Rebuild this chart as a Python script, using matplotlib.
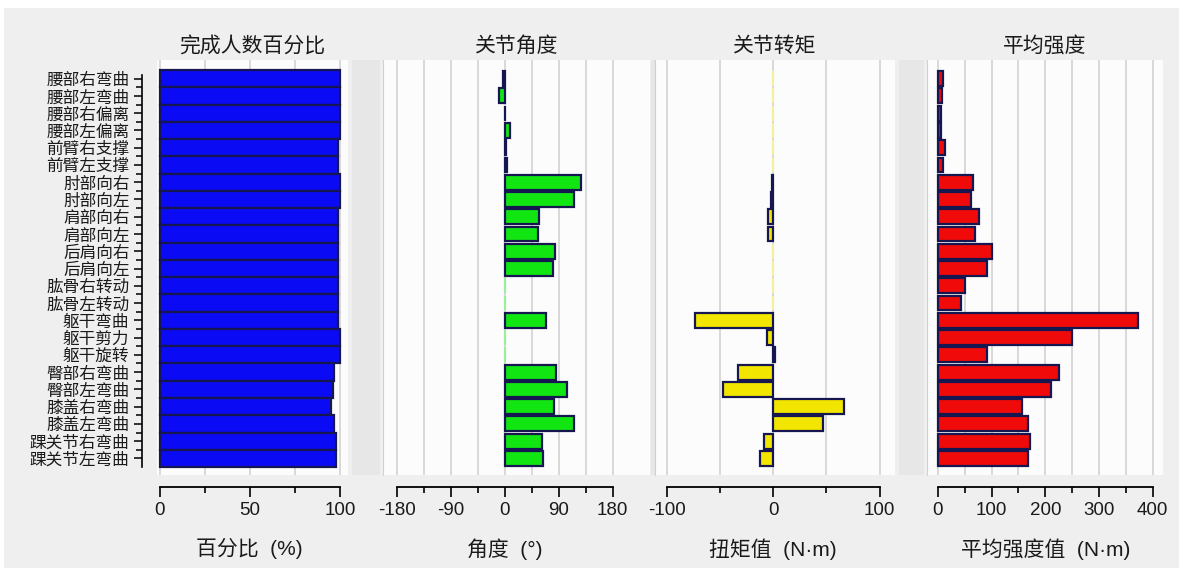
import matplotlib.pyplot as plt
import matplotlib.patches as patches
from matplotlib.ticker import FixedLocator
import numpy as np

plt.rcParams['font.family'] = ['Noto Sans CJK SC', 'DejaVu Sans']
plt.rcParams['axes.unicode_minus'] = False

# data
categories = ['腰部右弯曲', '腰部左弯曲', '腰部右偏离', '腰部左偏离', '前臂右支撑', '前臂左支撑',
              '肘部向右', '肘部向左', '肩部向右', '肩部向左', '后肩向右', '后肩向左',
              '肱骨右转动', '肱骨左转动', '躯干弯曲', '躯干剪力', '躯干旋转',
              '臀部右弯曲', '臀部左弯曲', '膝盖右弯曲', '膝盖左弯曲', '踝关节右弯曲', '踝关节左弯曲']
percent = [100, 100, 100, 100, 99, 99, 100, 100, 99, 99, 99, 99, 99, 99, 99, 100, 100,
           97, 96, 95, 97, 98, 98]
angle = [-3, -10, 1, 8, 2, 4, 127, 115, 57, 55, 83, 80, 0, 0, 68, 0, 0,
         85, 103, 82, 115, 62, 63]
torque = [0, 0, 0, 0, 0, 0, -1, -2, -5, -5, 0, 0, 0, 0, -73, -6, 2,
          -33, -47, 67, 47, -9, -12]
strength = [9, 8, 6, 6, 13, 10, 66, 62, 77, 69, 100, 92, 50, 44, 372, 250, 91,
            225, 211, 156, 168, 171, 168]

titles = ['完成人数百分比', '关节角度', '关节转矩', '平均强度']
xlabels = ['百分比  (%)', '角度  (°)', '扭矩值  (N·m)', '平均强度值  (N·m)']

W, H = 1179, 568
fig = plt.figure(figsize=(W / 100, H / 100), dpi=100, facecolor='white')
fig.patches.append(patches.Rectangle((4 / W, 0), 1, (H - 8) / H, transform=fig.transFigure,
                                     facecolor='#efefef', edgecolor='none', zorder=-10))

panel_px = [(157, 348), (383, 650), (655, 895), (927, 1163)]
top_px, bot_px = 60, 475

# darker strips between the panels
for x0, x1 in [(352, 380), (651, 655), (899, 924)]:
    fig.patches.append(patches.Rectangle((x0 / W, (H - bot_px) / H), (x1 - x0) / W,
                                         (bot_px - top_px) / H, transform=fig.transFigure,
                                         facecolor='#e7e7e7', edgecolor='none', zorder=-9))

series = [percent, angle, torque, strength]
colors = ['#0a0af5', '#12e612', '#f2e600', '#f00a0a']
zero_colors = [None, '#9af09a', '#f7efa0', None]
bar_h = [1.0, 0.86, 0.86, 0.86]
xlims = [(-1.5, 104.5), (-203, 242), (-111, 114.5), (-20, 419)]
bounds = [(0, 100), (-180, 180), (-100, 100), (0, 400)]
majors = [[0, 50, 100], [-180, -90, 0, 90, 180], [-100, 0, 100], [0, 100, 200, 300, 400]]
minors = [[25, 75], [-135, -45, 45, 135], [-50, 50], [50, 150, 250, 350]]

y = np.arange(len(categories))
n = len(categories)

for i in range(4):
    x0, x1 = panel_px[i]
    ax = fig.add_axes([x0 / W, (H - bot_px) / H, (x1 - x0) / W, (bot_px - top_px) / H])
    ax.set_facecolor('#fcfcfc')
    vals = series[i]
    edges = ['#161650' if (v != 0 or zero_colors[i] is None) else zero_colors[i] for v in vals]
    ax.barh(y, vals, height=bar_h[i], color=colors[i], edgecolor=edges, linewidth=1.6, zorder=3)

    ax.set_xlim(*xlims[i])
    ax.set_ylim(n - 0.5 + 0.46, -0.5 - 0.58)
    ax.xaxis.set_major_locator(FixedLocator(majors[i]))
    ax.xaxis.set_minor_locator(FixedLocator(minors[i]))
    ax.grid(axis='x', which='both', color='#d9d9d9', linewidth=1.4, zorder=0)
    ax.set_axisbelow(True)

    for s in ['top', 'right']:
        ax.spines[s].set_visible(False)
    ax.spines['bottom'].set_position(('outward', 8.6))
    ax.spines['bottom'].set_bounds(*bounds[i])
    ax.spines['bottom'].set_linewidth(1.3)
    ax.tick_params(axis='x', which='major', length=7, width=1.2, pad=4,
                   labelsize=13.5, labelcolor='#1a1a1a')
    ax.tick_params(axis='x', which='minor', length=4.5, width=1.2)
    for lbl in ax.get_xticklabels():
        lbl.set_fontfamily(['Liberation Sans', 'DejaVu Sans'])

    if i == 0:
        ax.spines['left'].set_position(('outward', 10.8))
        ax.spines['left'].set_bounds(-0.2, n - 0.5)
        ax.spines['left'].set_linewidth(1.2)
        ax.set_yticks(y)
        ax.set_yticklabels(categories, fontsize=12, color='#1a1a1a')
        ax.yaxis.set_minor_locator(FixedLocator(y[:-1] + 0.5))
        ax.tick_params(axis='y', which='major', length=6, width=1.1, pad=3)
        ax.tick_params(axis='y', which='minor', length=4, width=1.1)
    else:
        ax.spines['left'].set_color('#d0d0d0')
        ax.set_yticks([])

    ax.set_title(titles[i], fontsize=15, pad=6, color='#1a1a1a')
    ax.set_xlabel(xlabels[i], fontsize=15, color='#1a1a1a', va='top',
                  fontfamily=['Liberation Sans', 'Noto Sans CJK SC'])
    xc = (np.mean(bounds[i]) - xlims[i][0]) / (xlims[i][1] - xlims[i][0])
    ax.xaxis.set_label_coords(xc, -(538 - bot_px) / (bot_px - top_px))

fig.savefig('out.png', dpi=100, facecolor=fig.get_facecolor())
